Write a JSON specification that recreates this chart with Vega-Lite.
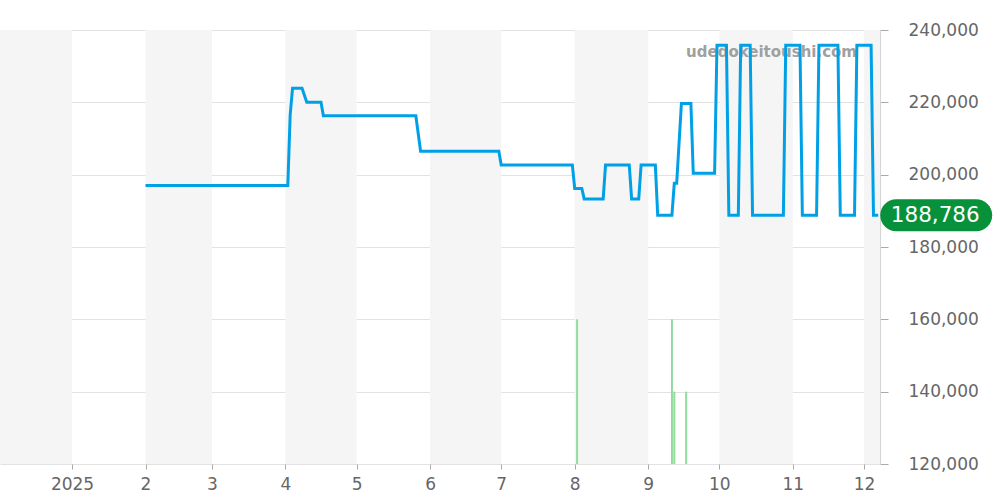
{
  "$schema": "https://vega.github.io/schema/vega-lite/v6.json",
  "width": 880,
  "height": 434,
  "autosize": "none",
  "padding": {"left": 0, "top": 30, "right": 120, "bottom": 36},
  "background": "white",
  "config": {
    "view": {"stroke": null},
    "font": "DejaVu Sans",
    "axis": {"labelFont": "DejaVu Sans", "labelColor": "#666666", "labelFontSize": 17}
  },
  "datasets": {
    "bands": [
      {"start": "2024-12-01", "end": "2025-01-01"},
      {"start": "2025-02-01", "end": "2025-03-01"},
      {"start": "2025-04-01", "end": "2025-05-01"},
      {"start": "2025-06-01", "end": "2025-07-01"},
      {"start": "2025-08-01", "end": "2025-09-01"},
      {"start": "2025-10-01", "end": "2025-11-01"},
      {"start": "2025-12-01", "end": "2026-01-01"}
    ],
    "price": [
      {"date": "2025-02-01", "price": 197000},
      {"date": "2025-04-02", "price": 197000},
      {"date": "2025-04-03", "price": 216500},
      {"date": "2025-04-04", "price": 223900},
      {"date": "2025-04-08", "price": 223900},
      {"date": "2025-04-10", "price": 220000},
      {"date": "2025-04-16", "price": 220000},
      {"date": "2025-04-17", "price": 216300},
      {"date": "2025-05-26", "price": 216300},
      {"date": "2025-05-28", "price": 206500},
      {"date": "2025-06-30", "price": 206500},
      {"date": "2025-07-01", "price": 202700},
      {"date": "2025-07-31", "price": 202700},
      {"date": "2025-08-01", "price": 196200},
      {"date": "2025-08-04", "price": 196200},
      {"date": "2025-08-05", "price": 193300},
      {"date": "2025-08-13", "price": 193300},
      {"date": "2025-08-14", "price": 202700},
      {"date": "2025-08-24", "price": 202700},
      {"date": "2025-08-25", "price": 193300},
      {"date": "2025-08-28", "price": 193300},
      {"date": "2025-08-29", "price": 202700},
      {"date": "2025-09-04", "price": 202700},
      {"date": "2025-09-05", "price": 188786},
      {"date": "2025-09-11", "price": 188786},
      {"date": "2025-09-12", "price": 197600},
      {"date": "2025-09-13", "price": 197600},
      {"date": "2025-09-15", "price": 219700},
      {"date": "2025-09-19", "price": 219700},
      {"date": "2025-09-20", "price": 200400},
      {"date": "2025-09-29", "price": 200400},
      {"date": "2025-09-30", "price": 235800},
      {"date": "2025-10-04", "price": 235800},
      {"date": "2025-10-05", "price": 188786},
      {"date": "2025-10-09", "price": 188786},
      {"date": "2025-10-10", "price": 235800},
      {"date": "2025-10-14", "price": 235800},
      {"date": "2025-10-15", "price": 188786},
      {"date": "2025-10-28", "price": 188786},
      {"date": "2025-10-29", "price": 235800},
      {"date": "2025-11-04", "price": 235800},
      {"date": "2025-11-05", "price": 188786},
      {"date": "2025-11-11", "price": 188786},
      {"date": "2025-11-12", "price": 235800},
      {"date": "2025-11-20", "price": 235800},
      {"date": "2025-11-21", "price": 188786},
      {"date": "2025-11-27", "price": 188786},
      {"date": "2025-11-28", "price": 235800},
      {"date": "2025-12-04", "price": 235800},
      {"date": "2025-12-05", "price": 188786},
      {"date": "2025-12-07", "price": 188786}
    ],
    "latest": [
      {"date": "2025-12-07", "price": 188786, "label": "188,786"}
    ],
    "volume": [
      {"date": "2025-08-02", "volume": 2},
      {"date": "2025-09-11", "volume": 2},
      {"date": "2025-09-12", "volume": 1},
      {"date": "2025-09-17", "volume": 1}
    ],
    "watermark": [
      {"text": "udedokeitoushi.com"}
    ]
  },
  "layer": [
    {
      "layer": [
        {
          "data": {"name": "bands"},
          "mark": {"type": "rect", "color": "#f5f5f5", "clip": true},
          "encoding": {
            "x": {
              "field": "start",
              "type": "temporal",
              "scale": {
                "type": "utc",
                "nice": false,
                "padding": 0,
                "domain": [
                  {"year": 2024, "month": 12, "date": 1, "hours": 15, "utc": true},
                  {"year": 2025, "month": 12, "date": 7, "hours": 18, "utc": true}
                ]
              },
              "axis": {
                "orient": "bottom",
                "values": [
                  {"year": 2025, "month": 1, "date": 1, "utc": true},
                  {"year": 2025, "month": 2, "date": 1, "utc": true},
                  {"year": 2025, "month": 3, "date": 1, "utc": true},
                  {"year": 2025, "month": 4, "date": 1, "utc": true},
                  {"year": 2025, "month": 5, "date": 1, "utc": true},
                  {"year": 2025, "month": 6, "date": 1, "utc": true},
                  {"year": 2025, "month": 7, "date": 1, "utc": true},
                  {"year": 2025, "month": 8, "date": 1, "utc": true},
                  {"year": 2025, "month": 9, "date": 1, "utc": true},
                  {"year": 2025, "month": 10, "date": 1, "utc": true},
                  {"year": 2025, "month": 11, "date": 1, "utc": true},
                  {"year": 2025, "month": 12, "date": 1, "utc": true}
                ],
                "labelExpr": "utcmonth(datum.value) == 0 ? utcFormat(datum.value, '%Y') : '' + (utcmonth(datum.value) + 1)",
                "title": null,
                "grid": false,
                "domain": false,
                "tickSize": 5,
                "tickColor": "#aaaaaa",
                "labelPadding": 7,
                "labelFlush": false,
                "labelOverlap": false
              }
            },
            "x2": {"field": "end"}
          }
        },
        {
          "data": {"name": "watermark"},
          "mark": {"type": "text", "font": "DejaVu Sans", "fontWeight": "bold", "fontSize": 15, "color": "#a0a0a0", "align": "center", "baseline": "middle"},
          "encoding": {
            "x": {"datum": {"year": 2025, "month": 10, "date": 23, "utc": true}, "type": "temporal"},
            "y": {"datum": 233900, "type": "quantitative"},
            "text": {"field": "text"}
          }
        },
        {
          "data": {"name": "price"},
          "mark": {"type": "line", "color": "#00a0e6", "strokeWidth": 3, "strokeJoin": "miter"},
          "encoding": {
            "x": {"field": "date", "type": "temporal"},
            "y": {
              "field": "price",
              "type": "quantitative",
              "scale": {"domain": [120000, 240000], "nice": false, "zero": false},
              "axis": {
                "orient": "right",
                "title": null,
                "values": [120000, 140000, 160000, 180000, 200000, 220000, 240000],
                "labelExpr": "format(datum.value, ',')",
                "grid": true,
                "gridColor": "#e2e2e2",
                "domain": true,
                "domainColor": "#d5d5d5",
                "tickSize": 8,
                "tickColor": "#aaaaaa",
                "labelPadding": 20,
                "labelAlign": "left",
                "labelBaseline": "middle"
              }
            }
          }
        },
        {
          "data": {"name": "latest"},
          "mark": {
            "type": "point",
            "shape": "M -0.714 -0.2857 L 0.714 -0.2857 A 0.2857 0.2857 0 0 1 0.714 0.2857 L -0.714 0.2857 A 0.2857 0.2857 0 0 1 -0.714 -0.2857 Z",
            "filled": true,
            "opacity": 1,
            "color": "#07913a",
            "size": 12544,
            "xOffset": 58
          },
          "encoding": {
            "x": {"field": "date", "type": "temporal"},
            "y": {"field": "price", "type": "quantitative"}
          }
        },
        {
          "data": {"name": "latest"},
          "mark": {"type": "text", "color": "white", "fontSize": 21.5, "font": "DejaVu Sans", "align": "center", "baseline": "middle", "xOffset": 57, "yOffset": 1},
          "encoding": {
            "x": {"field": "date", "type": "temporal"},
            "y": {"field": "price", "type": "quantitative"},
            "text": {"field": "label"}
          }
        }
      ]
    },
    {
      "data": {"name": "volume"},
      "mark": {"type": "bar", "width": 2, "color": "#92db9e"},
      "encoding": {
        "x": {"field": "date", "type": "temporal"},
        "y": {"field": "volume", "type": "quantitative", "scale": {"domain": [0, 6], "nice": false}, "axis": null}
      }
    }
  ],
  "resolve": {"scale": {"y": "independent"}, "axis": {"y": "independent"}}
}
